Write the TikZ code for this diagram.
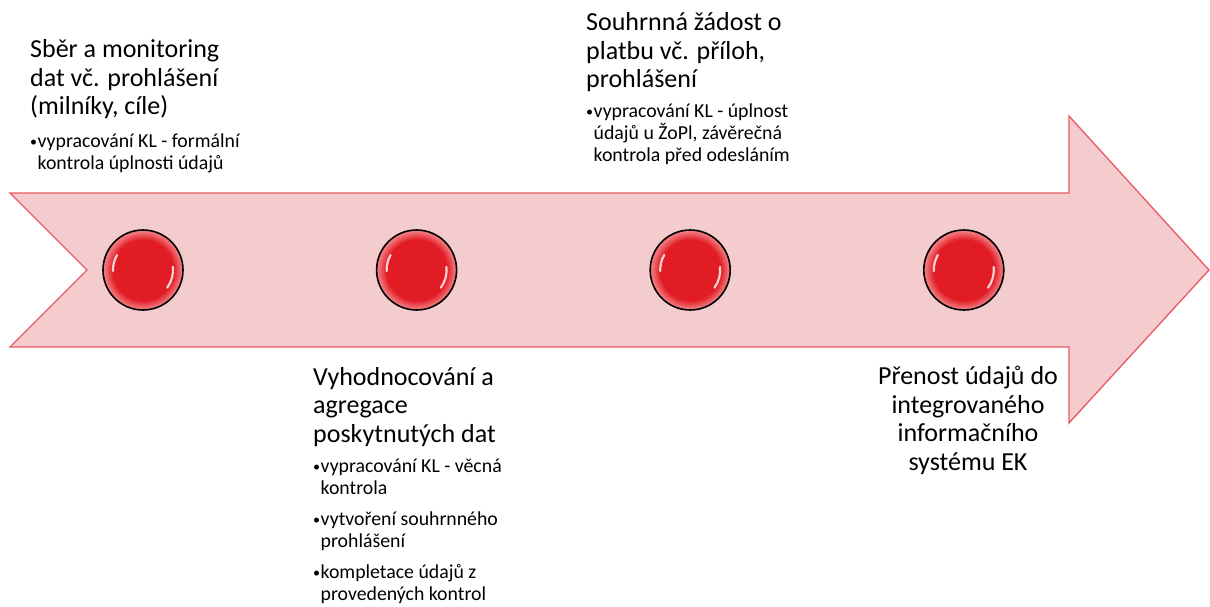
\documentclass[tikz,border=0pt]{standalone}
\usepackage{fontspec}
\setmainfont{Carlito}
\usetikzlibrary{positioning}
\definecolor{bandfill}{RGB}{244,204,205}
\definecolor{bandline}{RGB}{233,90,98}
\definecolor{ballred}{RGB}{226,28,36}
\definecolor{ballrim}{RGB}{240,118,123}
\pgfdeclareradialshading{glossball}{\pgfpoint{0bp}{0bp}}{color(0bp)=(ballred); color(19bp)=(ballred); color(24bp)=(ballrim); color(25bp)=(ballrim); color(50bp)=(ballrim)}
\newcommand\itemdot{\makebox[7.5pt][l]{\raisebox{1pt}{\fontsize{14}{14}\selectfont\textbullet}}}
\newcommand\itemgap{\hspace*{7.5pt}}

\begin{document}
\begin{tikzpicture}[
  x=1pt, y=1pt,
  title/.style={inner sep=0pt, anchor=base west, align=left, font=\fontsize{26}{28.5}\selectfont},
  note/.style={inner sep=0pt, anchor=base west, align=left, font=\fontsize{19.8}{22}\selectfont},
  ball/.style={circle, draw=black, line width=1.6pt, minimum size=80pt, inner sep=0pt, shading=glossball},
  gloss/.style={white, line width=2.2pt, line cap=round, opacity=0.8}
]
\useasboundingbox (0,0) rectangle (1210,606);
\draw[bandline, fill=bandfill, line width=1.3pt]
  (10,413) -- (1069,413) -- (1069,490) -- (1209,336) -- (1069,183) -- (1069,259) -- (10,259) -- (87,336) -- cycle;

\node[ball] (b1) at (143,336) {};
\node[ball, right=192pt of b1] (b2) {};
\node[ball, right=192pt of b2] (b3) {};
\node[ball, right=192pt of b3] (b4) {};
\foreach \b in {b1,b2,b3,b4} {
  \draw[gloss] ([shift={(150:30)}]\b.center) arc[start angle=150, end angle=182, radius=30];
  \draw[gloss] ([shift={(6:30)}]\b.center) arc[start angle=6, end angle=-36, radius=30];
}

\node[title] (collect) at (30,491) {Sběr a monitoring\\dat vč. prohlášení\\(milníky, cíle)};
\node[note] (collectnote) at (30,436) {\itemdot vypracování KL - formální\\\itemgap kontrola úplnosti údajů};

\node[title] (assess) at (313,164) {Vyhodnocování a\\agregace\\poskytnutých dat};
\node[note] (assessnote) at (313,6) {\itemdot vypracování KL - věcná\\\itemgap kontrola\\[9pt]\itemdot vytvoření souhrnného\\\itemgap prohlášení\\[9pt]\itemdot kompletace údajů z\\\itemgap provedených kontrol};

\node[title] (claim) at (586,518) {Souhrnná žádost o\\platbu vč. příloh,\\prohlášení};
\node[note] (claimnote) at (586,444) {\itemdot vypracování KL - úplnost\\\itemgap údajů u ŽoPl, závěrečná\\\itemgap kontrola před odesláním};

\node[title, anchor=base, align=center] (transfer) at (968,136) {Přenost údajů do\\integrovaného\\informačního\\systému EK};
\end{tikzpicture}
\end{document}
